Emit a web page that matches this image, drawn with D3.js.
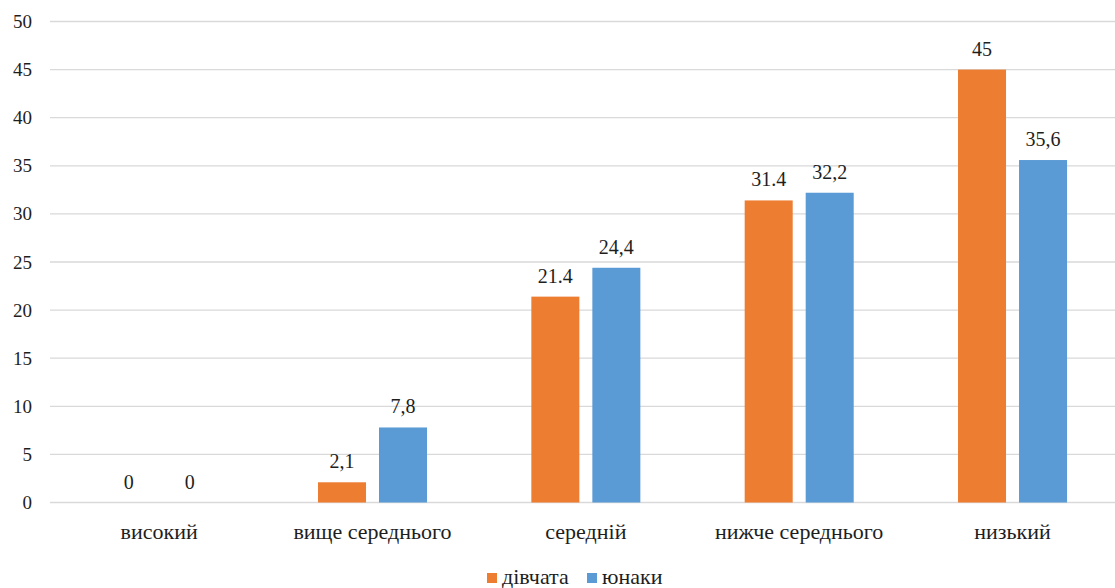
<!DOCTYPE html>
<html>
<head>
<meta charset="utf-8">
<script src="https://cdn.jsdelivr.net/npm/d3@7/dist/d3.min.js"></script>
<style>
  html, body { margin: 0; padding: 0; background: #fff; }
  svg { display: block; }
</style>
</head>
<body>
<svg id="chart" width="1115" height="588"></svg>
<script>
// Levels and per-group percentages
const categories = ["високий", "вище середнього", "середній", "нижче середнього", "низький"];
const seriesNames = ["дівчата", "юнаки"];
const girls = [0, 2.1, 21.4, 31.4, 45];
const boys = [0, 7.8, 24.4, 32.2, 35.6];
const girlsLabels = ["0", "2,1", "21.4", "31.4", "45"];
const boysLabels = ["0", "7,8", "24,4", "32,2", "35,6"];
const yTicks = [0, 5, 10, 15, 20, 25, 30, 35, 40, 45, 50];
const colors = ["#ED7D31", "#5B9BD5"];

const INK = "#1e1e1e";
const W = 1115;

const svg = d3.select("#chart").attr("font-family", "Liberation Serif");

const x0 = d3.scaleBand().domain(categories).range([52.5, 1119.2]).padding(0);
const x1 = d3.scaleBand().domain(seriesNames).range([0, x0.bandwidth()])
  .paddingInner(0.213).paddingOuter(0.855);
const y = d3.scaleLinear().domain([0, 50]).range([502.5, 21.5]);

// Horizontal gridlines
svg.append("g").selectAll("line").data(yTicks).join("line")
  .attr("x1", 50).attr("x2", W)
  .attr("y1", d => y(d)).attr("y2", d => y(d))
  .attr("stroke", "#d9d9d9").attr("stroke-width", 1.3);

// Y axis labels
const gy = svg.append("g").attr("transform", "translate(32,0)")
  .call(d3.axisLeft(y).tickValues(yTicks).tickSize(0).tickPadding(0));
gy.select(".domain").remove();
gy.attr("font-family", "Liberation Serif").attr("font-size", 19);
gy.selectAll("text").attr("font-family", "Liberation Serif").attr("fill", INK);

// Category labels
const gx = svg.append("g").attr("transform", "translate(0,523)")
  .call(d3.axisBottom(x0).tickSize(0).tickPadding(0));
gx.select(".domain").remove();
gx.attr("font-family", "Liberation Serif").attr("font-size", 22);
gx.selectAll("text").attr("font-family", "Liberation Serif").attr("fill", INK);

// Bars and value labels
const rows = categories.map((c, i) => ({
  cat: c,
  vals: [
    { s: seriesNames[0], v: girls[i], label: girlsLabels[i], color: colors[0] },
    { s: seriesNames[1], v: boys[i], label: boysLabels[i], color: colors[1] }
  ]
}));

const groups = svg.append("g").selectAll("g").data(rows).join("g")
  .attr("transform", d => `translate(${x0(d.cat)},0)`);

groups.selectAll("rect").data(d => d.vals).join("rect")
  .attr("x", d => x1(d.s))
  .attr("width", x1.bandwidth())
  .attr("y", d => y(d.v))
  .attr("height", d => y(0) - y(d.v))
  .attr("fill", d => d.color);

groups.selectAll("text.val").data(d => d.vals).join("text")
  .attr("class", "val")
  .attr("x", d => x1(d.s) + x1.bandwidth() / 2)
  .attr("y", d => y(d.v) - 14)
  .attr("text-anchor", "middle")
  .attr("font-family", "Liberation Serif")
  .attr("font-size", 20)
  .attr("fill", INK)
  .text(d => d.label);

// Legend
const legend = svg.append("g");
const legendItems = [
  { name: seriesNames[0], color: colors[0], x: 487 },
  { name: seriesNames[1], color: colors[1], x: 587 }
];
legendItems.forEach(it => {
  legend.append("rect").attr("x", it.x).attr("y", 573).attr("width", 10).attr("height", 10).attr("fill", it.color);
  legend.append("text").attr("x", it.x + 15).attr("y", 584)
    .attr("font-family", "Liberation Serif").attr("font-size", 22).attr("fill", INK)
    .text(it.name);
});
</script>
</body>
</html>
